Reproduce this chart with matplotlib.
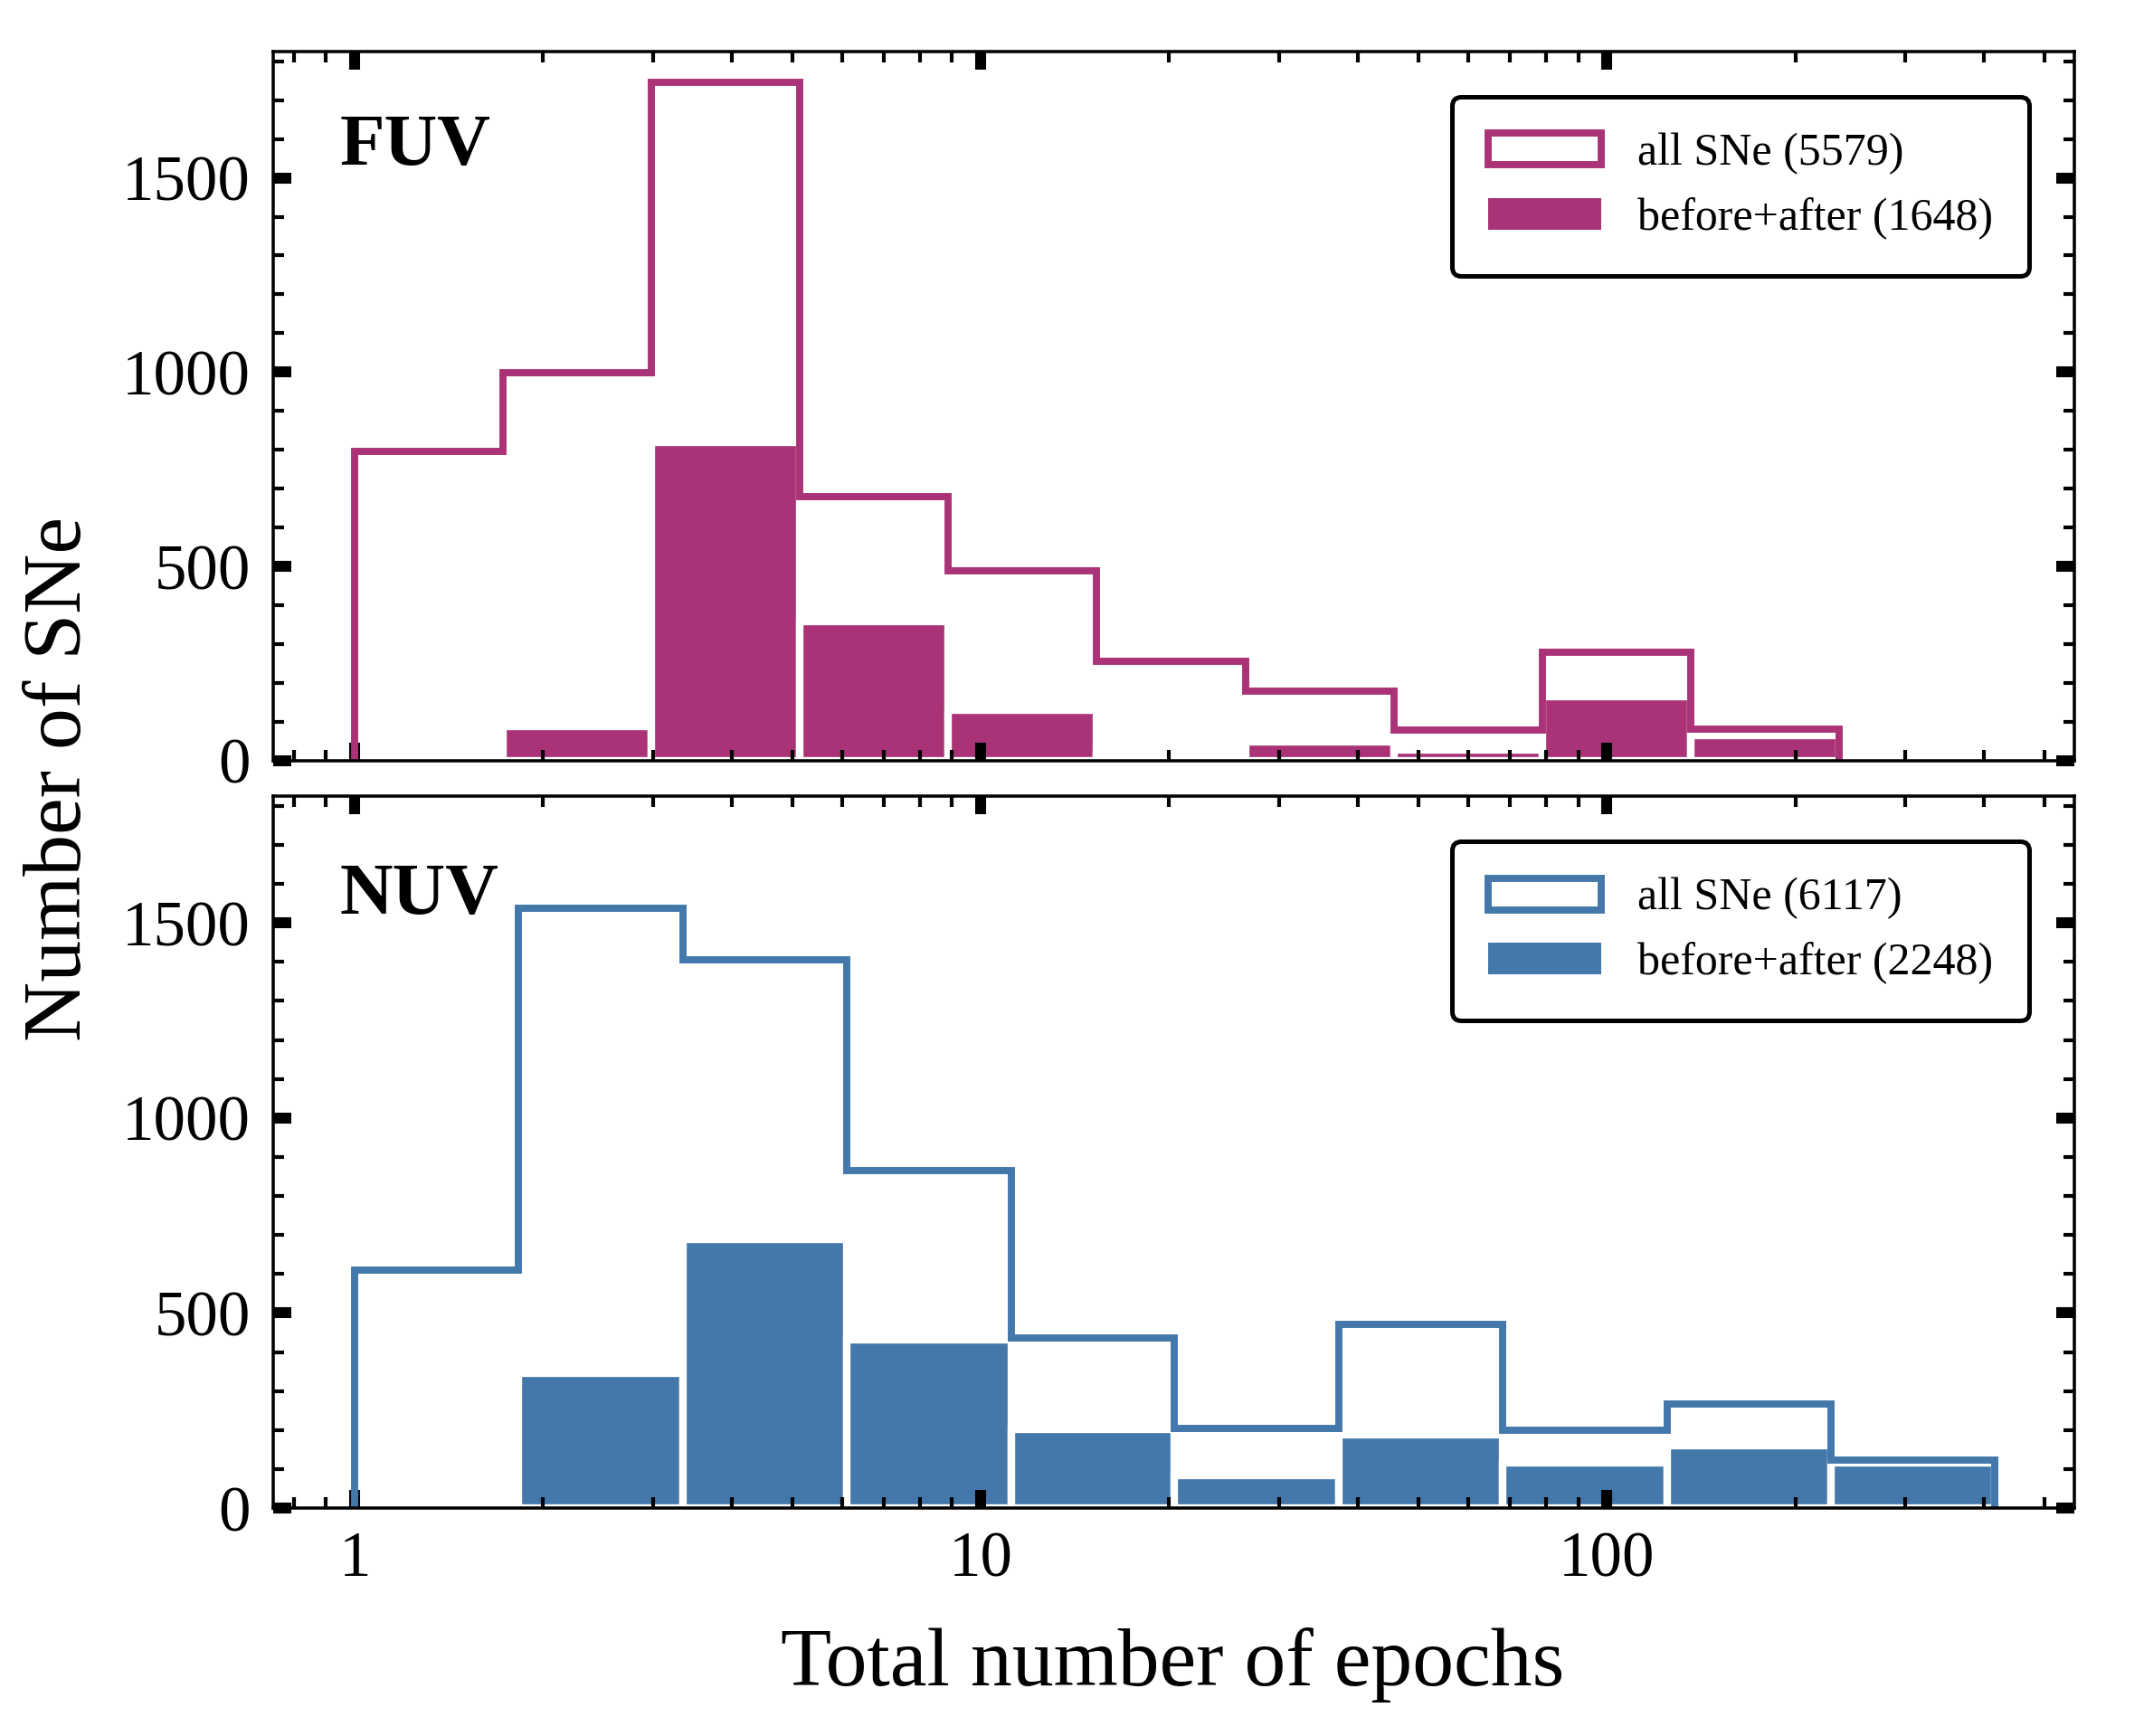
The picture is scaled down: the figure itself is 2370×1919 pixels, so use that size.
import numpy as np
import matplotlib
matplotlib.use('Agg')
import matplotlib.pyplot as plt
from matplotlib.patches import Patch
from matplotlib.ticker import MultipleLocator, LogLocator, NullFormatter

# bin edges (log spaced)
fuv_edges = [1.0, 1.726, 2.98, 5.14, 8.88, 15.3, 26.5, 45.7, 78.9, 136.0, 235.0]
nuv_edges = [1.0, 1.828, 3.34, 6.11, 11.2, 20.4, 37.3, 68.2, 124.7, 228.0, 417.0]

# counts per bin
fuv_all = [795, 998, 1745, 680, 488, 255, 178, 80, 278, 82]
fuv_both = [0, 88, 820, 358, 131, 15, 48, 28, 165, 66]
nuv_all = [610, 1538, 1405, 866, 435, 203, 470, 200, 267, 123]
nuv_both = [0, 345, 689, 432, 202, 84, 189, 115, 161, 115]

fuv_color = '#AA3377'
nuv_color = '#4477AA'

plt.rcParams['font.family'] = ['Liberation Serif', 'DejaVu Serif']


def style_axis(ax):
    ax.set_xscale('log')
    ax.set_xlim(0.741, 558)
    ax.set_ylim(0, 1825)
    ax.yaxis.set_major_locator(MultipleLocator(500))
    ax.yaxis.set_minor_locator(MultipleLocator(100))
    ax.xaxis.set_major_locator(LogLocator(base=10))
    ax.xaxis.set_minor_locator(LogLocator(base=10, subs=np.arange(2, 10)))
    ax.xaxis.set_minor_formatter(NullFormatter())
    ax.tick_params(which='both', direction='in', top=True, right=True)
    ax.tick_params(which='major', length=4.8, width=2.9, labelsize=17, pad=6)
    ax.tick_params(which='minor', length=2.9, width=1.0)
    for sp in ax.spines.values():
        sp.set_linewidth(0.85)


def plot_panel(ax, edges, all_vals, both_vals, color, name, total_all, total_both, label_y):
    widths = np.diff(edges)
    ax.bar(edges[:-1], both_vals, width=widths, align='edge', color=color,
           edgecolor='white', linewidth=2.0, zorder=1)
    ax.stairs(all_vals, edges, baseline=0, color=color, linewidth=1.9, zorder=2)
    style_axis(ax)
    ax.text(0.037, label_y, name, transform=ax.transAxes, fontsize=19.5,
            fontweight='bold', va='center', ha='left')
    handles = [Patch(facecolor='white', edgecolor=color, linewidth=1.9),
               Patch(facecolor=color, edgecolor='none')]
    labels = [f'all SNe ({total_all})', f'before+after ({total_both})']
    leg = ax.legend(handles, labels, loc='upper right', fontsize=12,
                    borderaxespad=1.0, borderpad=0.8, handlelength=2.5,
                    framealpha=1, fancybox=True, edgecolor='black')
    leg.get_frame().set_linewidth(1.2)


def main():
    fig = plt.figure(figsize=(7.9, 6.3967), dpi=300)
    left, right = 0.1274, 0.9675
    ax1 = fig.add_axes([left, 0.5618, right - left, 0.9703 - 0.5618])
    ax2 = fig.add_axes([left, 0.1313, right - left, 0.5414 - 0.1313])

    plot_panel(ax1, fuv_edges, fuv_all, fuv_both, fuv_color, 'FUV', 5579, 1648, 0.866)
    plot_panel(ax2, nuv_edges, nuv_all, nuv_both, nuv_color, 'NUV', 6117, 2248, 0.860)
    ax1.tick_params(axis='x', which='both', labelbottom=False)
    ax2.set_xticks([1, 10, 100])
    ax2.set_xticklabels(['1', '10', '100'])

    fig.text(0.028, 0.5515, 'Number of SNe', rotation=90, fontsize=22,
             ha='center', va='center')
    fig.text(0.547, 0.041, 'Total number of epochs', fontsize=22,
             ha='center', va='center')

    fig.savefig('out.png', dpi=300)


if __name__ == "__main__":
    main()
